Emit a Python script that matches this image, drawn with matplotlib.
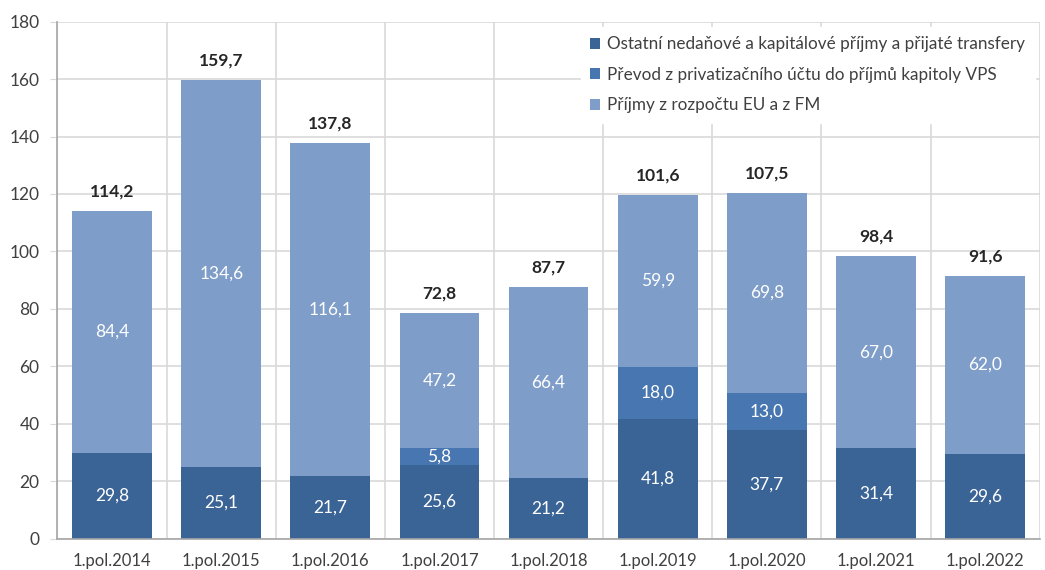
import matplotlib.pyplot as plt
import numpy as np

plt.rcParams['font.family'] = ['Lato', 'DejaVu Sans']

categories = ['1.pol.2014', '1.pol.2015', '1.pol.2016', '1.pol.2017', '1.pol.2018',
              '1.pol.2019', '1.pol.2020', '1.pol.2021', '1.pol.2022']
ostatni = [29.8, 25.1, 21.7, 25.6, 21.2, 41.8, 37.7, 31.4, 29.6]
prevod = [0, 0, 0, 5.8, 0, 18.0, 13.0, 0, 0]
eu = [84.4, 134.6, 116.1, 47.2, 66.4, 59.9, 69.8, 67.0, 62.0]
totals = [114.2, 159.7, 137.8, 72.8, 87.7, 101.6, 107.5, 98.4, 91.6]

names = ['Ostatní nedaňové a kapitálové příjmy a přijaté transfery',
         'Převod z privatizačního účtu do příjmů kapitoly VPS',
         'Příjmy z rozpočtu EU a z FM']
colors = ['#3b6496', '#4876b0', '#7e9dc8']

fig, ax = plt.subplots(figsize=(10.45, 5.7), dpi=100)
fig.subplots_adjust(left=0.055, right=0.995, top=0.962, bottom=0.055)

x = np.arange(len(categories))
w = 0.73
bottom = np.zeros(len(categories))
for vals, c, n in zip([ostatni, prevod, eu], colors, names):
    vals = np.array(vals)
    ax.bar(x, vals, w, bottom=bottom, color=c, label=n, zorder=2)
    for xi, b, v in zip(x, bottom, vals):
        if v > 0:
            ax.text(xi, b + v / 2, f'{v:.1f}'.replace('.', ','), ha='center', va='center',
                    color='white', fontsize=12.5, zorder=3)
    bottom += vals

for xi, top, t in zip(x, bottom, totals):
    ax.annotate(f'{t:.1f}'.replace('.', ','), (xi, top), xytext=(0, 8), textcoords='offset points',
                ha='center', va='bottom', fontsize=12.5, fontweight='bold', color='#262626')

ax.set_ylim(0, 180)
ax.set_yticks(range(0, 181, 20))
ax.set_xlim(-0.5, len(categories) - 0.5)
ax.set_xticks(x)
ax.set_xticklabels(categories)
ax.set_xticks(np.arange(-0.5, len(categories), 1), minor=True)
ax.grid(axis='y', color='#d9d9d9', lw=1.2, zorder=0)
ax.grid(axis='x', which='minor', color='#d9d9d9', lw=1.2, zorder=0)
ax.tick_params(axis='x', which='both', length=0, labelsize=12, labelcolor='#404040', pad=10)
ax.tick_params(axis='y', length=5, color='#d9d9d9', labelsize=12.5, labelcolor='#404040', pad=8)
for s in ['top', 'right']:
    ax.spines[s].set_visible(False)
ax.spines['left'].set_color('#a6a6a6')
ax.spines['bottom'].set_color('#a6a6a6')
ax.spines['left'].set_linewidth(1.2)
ax.spines['bottom'].set_linewidth(1.2)

leg = ax.legend(loc='upper right', bbox_to_anchor=(1.0, 1.0), frameon=True, fontsize=12.3,
                handlelength=0.6, handleheight=0.6, handletextpad=0.4, labelspacing=0.85,
                borderaxespad=0.3, borderpad=0.55, fancybox=False)
leg.get_frame().set_facecolor('white')
leg.get_frame().set_edgecolor('white')
leg.get_frame().set_alpha(1)
for t in leg.get_texts():
    t.set_color('#404040')

fig.savefig('out.png')
